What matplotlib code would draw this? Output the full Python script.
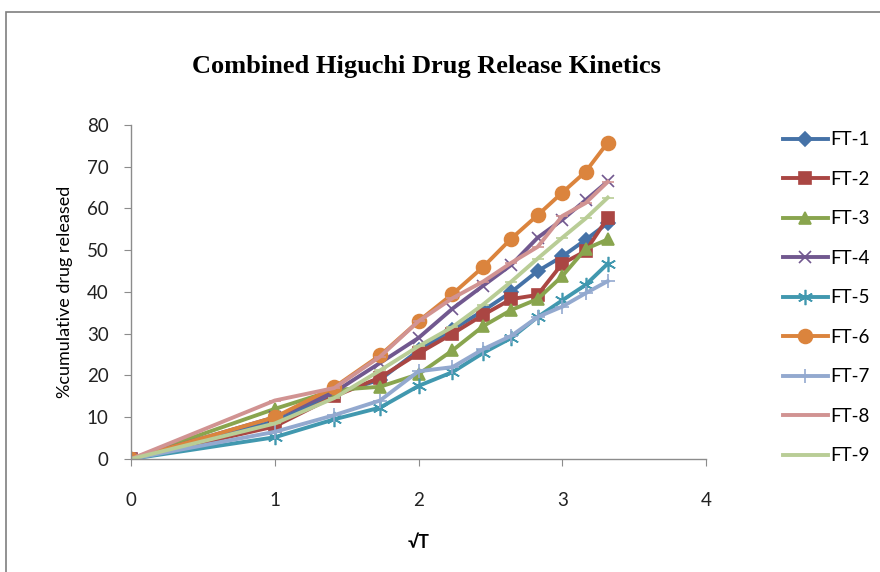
import numpy as np
import matplotlib
matplotlib.use("Agg")
import matplotlib.pyplot as plt
from matplotlib.patches import Rectangle

# square root of sampling time (hours)
sqrt_t = np.sqrt([0, 1, 2, 3, 4, 5, 6, 7, 8, 9, 10, 11])

# % cumulative drug released for each formulation
ft1 = [0, 9.0, 15.5, 19.0, 26.0, 31.0, 35.5, 40.0, 45.0, 48.5, 52.5, 56.5]
ft2 = [0, 7.8, 15.0, 19.5, 25.3, 30.0, 34.5, 38.3, 39.3, 46.8, 49.8, 57.8]
ft3 = [0, 12.0, 16.5, 17.3, 20.3, 26.0, 31.8, 35.7, 38.3, 43.8, 50.3, 52.6]
ft4 = [0, 10.0, 16.0, 23.0, 29.0, 36.0, 41.5, 46.5, 53.0, 57.3, 62.0, 66.5]
ft5 = [0, 5.2, 9.5, 12.3, 17.5, 20.8, 25.4, 29.0, 34.0, 38.0, 41.7, 46.8]
ft6 = [0, 10.0, 17.2, 24.8, 33.0, 39.5, 46.0, 52.8, 58.4, 63.8, 68.8, 75.8]
ft7 = [0, 6.5, 10.5, 14.0, 21.0, 22.0, 26.3, 29.5, 34.0, 36.5, 39.7, 42.6]
ft8 = [0, 14.0, 17.0, 24.5, 33.0, 38.5, 42.5, 47.0, 50.8, 58.2, 61.3, 66.4]
ft9 = [0, 8.5, 14.6, 21.2, 27.0, 31.6, 37.0, 42.5, 48.0, 53.0, 57.6, 62.6]

labels = ["FT-1", "FT-2", "FT-3", "FT-4", "FT-5", "FT-6", "FT-7", "FT-8", "FT-9"]
series = [ft1, ft2, ft3, ft4, ft5, ft6, ft7, ft8, ft9]

colors = ["#4572A7", "#AA4643", "#89A54E", "#71588F", "#4198AF",
          "#DB843D", "#93A9CF", "#D19392", "#B9CD96"]
markers = ["D", "s", "^", "x", (6, 2, 0), "o", "+", "_", "_"]
msizes = [7, 9, 9, 9, 11, 10, 10, 9, 9]

plt.rcParams["font.family"] = ["Lato", "DejaVu Sans"]

fig = plt.figure(figsize=(8.8, 5.72), dpi=100)
ax = fig.add_axes([0.1489, 0.1976, 0.6534, 0.5839])

for y, lab, c, m, ms in zip(series, labels, colors, markers, msizes):
    ax.plot(sqrt_t, y, color=c, lw=2.8, marker=m, markersize=ms,
            markeredgewidth=1.2, label=lab)

ax.set_xlim(0, 4)
ax.set_ylim(0, 80)
ax.set_xticks(np.arange(0, 5, 1))
ax.set_yticks(np.arange(0, 90, 10))
for side in ["top", "right"]:
    ax.spines[side].set_visible(False)
for side in ["left", "bottom"]:
    ax.spines[side].set_color("#8c8c8c")
    ax.spines[side].set_linewidth(1.0)
ax.tick_params(axis="both", direction="out", length=5, color="#8c8c8c",
               labelsize=13.5, labelcolor="#222222")
ax.tick_params(axis="x", pad=19)
ax.tick_params(axis="y", pad=11)

ax.set_xlabel("√T", fontsize=13, fontweight="bold", labelpad=18)
ax.set_ylabel("%cumulative drug released", fontsize=13, labelpad=10)

fig.text(0.485, 0.883, "Combined Higuchi Drug Release Kinetics",
         fontsize=19, fontweight="bold", family="Liberation Serif",
         ha="center", va="center")

ax.legend(loc="upper left", bbox_to_anchor=(1.12, 1.003), frameon=False,
          fontsize=13.5, handlelength=2.4, handletextpad=0.15,
          labelspacing=1.2, borderaxespad=0)

# outer chart border
fig.patches.append(Rectangle((0.007, -0.1), 1.1, 1.079, transform=fig.transFigure,
                             fill=False, edgecolor="#7f7f7f", lw=1.2))

fig.savefig("out.png", dpi=100)
